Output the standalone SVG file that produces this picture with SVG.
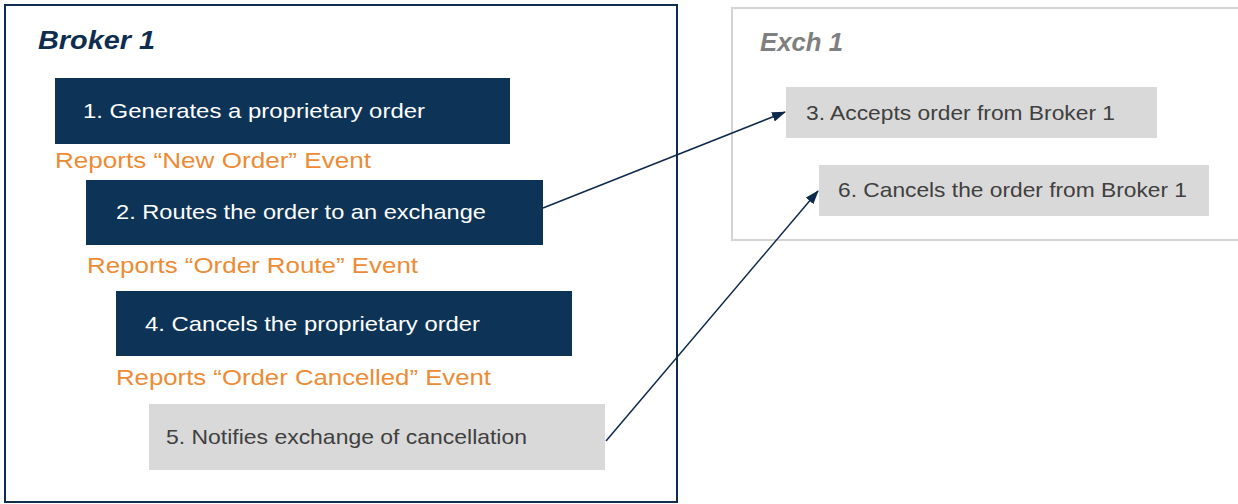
<svg xmlns="http://www.w3.org/2000/svg" width="1238" height="504" viewBox="0 0 1238 504">
<defs>
<style>
.frame{fill:#ffffff}
.navy{fill:#0d3457}
.grey{fill:#d9d9d9}
.t{font-family:"Liberation Sans",Arial,sans-serif;font-size:21px}
.tw{fill:#ffffff}
.tg{fill:#404040}
.ev{font-family:"Liberation Sans",Arial,sans-serif;font-size:22px;fill:#ed8b35}
.title{font-family:"Liberation Sans",Arial,sans-serif;font-size:25px;font-weight:bold;font-style:italic}
.conn{stroke:#0d2a4d;stroke-width:1.5;fill:none;marker-end:url(#arr)}
</style>
<marker id="arr" viewBox="0 0 14 10" refX="13" refY="5" markerWidth="14" markerHeight="10" orient="auto" markerUnits="userSpaceOnUse">
<path d="M0,0 L14,5 L0,10 z" fill="#0d2a4d"/>
</marker>
</defs>
<rect width="1238" height="504" fill="#ffffff"/>
<g id="broker1">
<rect class="frame" x="5" y="5" width="672" height="497" stroke="#0e2d4f" stroke-width="2"/>
<text class="title" x="38" y="49" fill="#0e2d4f" textLength="117" lengthAdjust="spacingAndGlyphs">Broker 1</text>
</g>
<g id="exch1">
<rect class="frame" x="732" y="8" width="510" height="232" stroke="#d3d3d3" stroke-width="2"/>
<text class="title" x="760" y="51" fill="#7f7f7f" textLength="83" lengthAdjust="spacingAndGlyphs">Exch 1</text>
</g>
<g id="step1">
<rect class="navy" x="55" y="78" width="455" height="66"/>
<text class="t tw" x="83" y="118" textLength="342" lengthAdjust="spacingAndGlyphs">1. Generates a proprietary order</text>
</g>
<text class="ev" x="55" y="168" textLength="316" lengthAdjust="spacingAndGlyphs">Reports “New Order” Event</text>
<g id="step2">
<rect class="navy" x="86" y="180" width="457" height="65"/>
<text class="t tw" x="116" y="219" textLength="370" lengthAdjust="spacingAndGlyphs">2. Routes the order to an exchange</text>
</g>
<text class="ev" x="87" y="273" textLength="331" lengthAdjust="spacingAndGlyphs">Reports “Order Route” Event</text>
<g id="step4">
<rect class="navy" x="116" y="291" width="456" height="65"/>
<text class="t tw" x="145" y="331" textLength="335" lengthAdjust="spacingAndGlyphs">4. Cancels the proprietary order</text>
</g>
<text class="ev" x="116" y="385" textLength="375" lengthAdjust="spacingAndGlyphs">Reports “Order Cancelled” Event</text>
<g id="step5">
<rect class="grey" x="149" y="404" width="456" height="66"/>
<text class="t tg" x="166" y="444" textLength="361" lengthAdjust="spacingAndGlyphs">5. Notifies exchange of cancellation</text>
</g>
<g id="step3">
<rect class="grey" x="786" y="87" width="371" height="51"/>
<text class="t tg" x="806" y="120" textLength="309" lengthAdjust="spacingAndGlyphs">3. Accepts order from Broker 1</text>
</g>
<g id="step6">
<rect class="grey" x="819" y="165" width="390" height="51"/>
<text class="t tg" x="838" y="197" textLength="349" lengthAdjust="spacingAndGlyphs">6. Cancels the order from Broker 1</text>
</g>
<g id="connectors">
<line class="conn" x1="543" y1="208" x2="785" y2="112"/>
<line class="conn" x1="606" y1="441" x2="818" y2="191"/>
</g>
</svg>
